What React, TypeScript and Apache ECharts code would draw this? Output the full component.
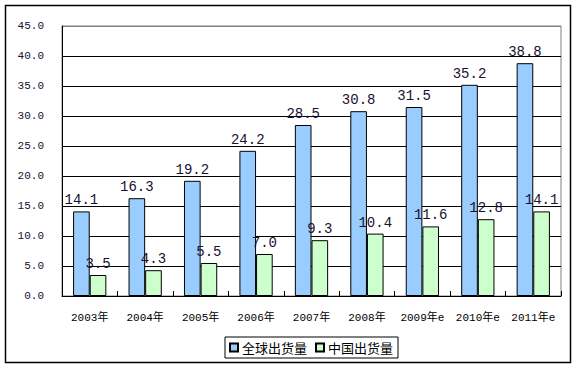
import React, { useEffect, useRef } from "react";
import * as echarts from "echarts";

const categories = ["2003年", "2004年", "2005年", "2006年", "2007年", "2008年", "2009年e", "2010年e", "2011年e"];
const globalShipments = [14.1, 16.3, 19.2, 24.2, 28.5, 30.8, 31.5, 35.2, 38.8];
const chinaShipments = [3.5, 4.3, 5.5, 7.0, 9.3, 10.4, 11.6, 12.8, 14.1];
const seriesNames = ["全球出货量", "中国出货量"];

const MONO = '"Liberation Mono", "DejaVu Sans Mono", monospace';
const CJK = '"Liberation Mono", "Noto Sans CJK SC", monospace';

export default function App() {
  const ref = useRef<HTMLDivElement>(null);
  useEffect(() => {
    document.body.style.margin = "0";
    const chart = echarts.init(ref.current!, null, { renderer: "svg" });
    const label = {
      show: true,
      position: "top" as const,
      distance: 4,
      fontFamily: MONO,
      fontSize: 14,
      color: "#1a1030",
      formatter: (p: any) => Number(p.value).toFixed(1),
    };
    chart.setOption({
      animation: false,
      backgroundColor: "#ffffff",
      graphic: [
        {
          type: "rect",
          shape: { x: 5.5, y: 5.5, width: 565, height: 357 },
          style: { fill: "none", stroke: "#000", lineWidth: 1.5 },
          z: 100,
        },
      ],
      grid: {
        left: 62,
        right: 17,
        top: 26,
        bottom: 74,
        show: true,
        borderColor: "#808080",
        borderWidth: 1,
      },
      legend: {
        left: 225,
        top: 337,
        data: seriesNames,
        orient: "horizontal",
        itemWidth: 8,
        itemHeight: 8,
        itemGap: 8,
        padding: [4, 5, 4, 4],
        borderColor: "#000",
        borderWidth: 1,
        icon: "rect",
        textStyle: { fontFamily: '"Noto Sans CJK SC"', fontSize: 13, color: "#000", padding: [0, 0, 0, -1] },
      },
      xAxis: {
        type: "category",
        data: categories,
        axisLine: { lineStyle: { color: "#000", width: 1 } },
        axisTick: { show: true, inside: true, length: 5, interval: 0, lineStyle: { color: "#000" } },
        axisLabel: { interval: 0, margin: 16, fontFamily: CJK, fontSize: 11, color: "#000" },
      },
      yAxis: {
        type: "value",
        min: 0,
        max: 45,
        interval: 5,
        axisLine: { show: true, lineStyle: { color: "#000", width: 1 } },
        axisTick: { show: false },
        axisLabel: {
          margin: 18,
          fontFamily: MONO,
          fontSize: 11,
          color: "#1a1030",
          formatter: (v: number) => v.toFixed(1),
        },
        splitLine: {
          show: true,
          lineStyle: {
            color: ["#000", "#000", "#000", "#000", "#000", "#000", "#000", "#000", "#000", "#808080"],
            width: 1,
          },
        },
      },
      series: [
        {
          name: seriesNames[0],
          type: "bar",
          data: globalShipments,
          barWidth: "30%",
          barGap: "0%",
          itemStyle: { color: "#99CCFF", borderColor: "#000", borderWidth: 1 },
          label,
        },
        {
          name: seriesNames[1],
          type: "bar",
          data: chinaShipments,
          barWidth: "30%",
          itemStyle: { color: "#CCFFCC", borderColor: "#000", borderWidth: 1 },
          label,
        },
      ],
    });
    return () => chart.dispose();
  }, []);
  return <div ref={ref} style={{ width: 578, height: 370 }} />;
}
